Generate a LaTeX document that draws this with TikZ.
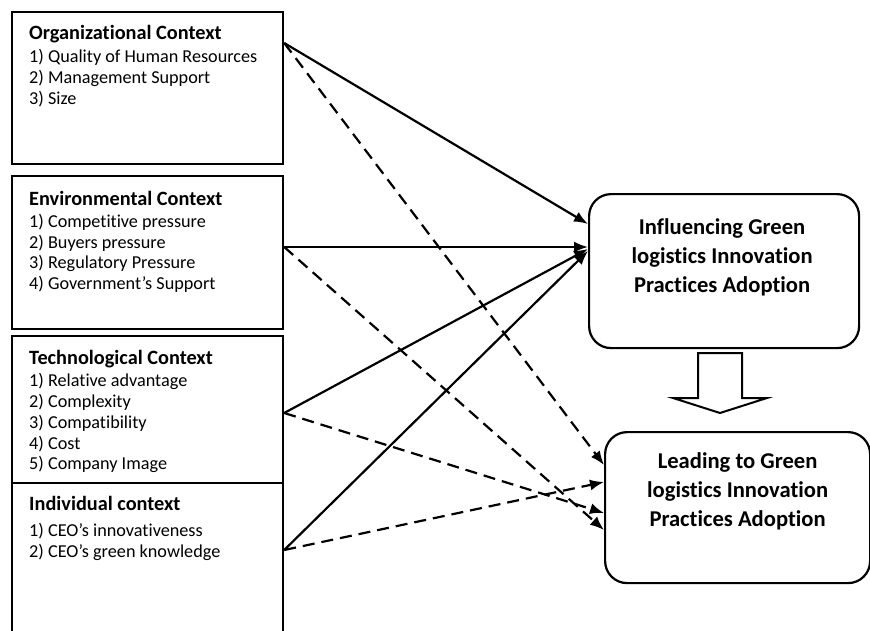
\documentclass[tikz,border=0pt]{standalone}
\usepackage{fontspec}
\setmainfont{Carlito}[Ligatures=NoCommon]
\usetikzlibrary{shapes,arrows,arrows.meta,positioning,calc}

\begin{document}
\begin{tikzpicture}[
    x=1pt, y=-1pt,
    ctxbox/.style={draw, rectangle, line width=2.2pt, anchor=north west, inner sep=0pt, minimum width=271pt},
    ctxtext/.style={anchor=north west, align=left, inner sep=0pt, font=\fontsize{18.2}{20.8}\selectfont},
    outbox/.style={draw, rectangle, line width=2.2pt, rounded corners=22pt, inner sep=0pt},
    outtext/.style={anchor=north, align=center, inner sep=0pt, font=\bfseries\fontsize{22.6}{29}\selectfont},
    arrow/.style={draw, -{Latex[length=14pt,width=11pt]}, line width=2.2pt},
    dasharrow/.style={arrow, dash pattern=on 12pt off 7pt}
]
    \useasboundingbox (0,0) rectangle (870,630);
    \clip (0,0) rectangle (870,630);

    % Nodes
    \node[ctxbox, minimum height=152pt] (org) at (11,11) {};
    \node[ctxbox, minimum height=153pt] (env) at (11,175) {};
    \node[ctxbox, minimum height=147pt] (tech) at (11,335) {};
    \node[ctxbox, minimum height=170pt] (indiv) at (11,482) {};

    \node[ctxtext] (orgtxt) at ($(org.north west)+(18,14)$)
        {{\bfseries\fontsize{20.3}{22}\selectfont Organizational Context}\\[2.5pt]
         1) Quality of Human Resources\\2) Management Support\\3) Size};
    \node[ctxtext] (envtxt) at ($(env.north west)+(18,16)$)
        {{\bfseries\fontsize{20.3}{22}\selectfont Environmental Context}\\[1pt]
         1) Competitive pressure\\2) Buyers pressure\\3) Regulatory Pressure\\4) Government’s Support};
    \node[ctxtext] (techtxt) at ($(tech.north west)+(18,15)$)
        {{\bfseries\fontsize{20.3}{22}\selectfont Technological Context}\\[1.5pt]
         1) Relative advantage\\2) Complexity\\3) Compatibility\\4) Cost\\5) Company Image};
    \node[ctxtext] (indivtxt) at ($(indiv.north west)+(18,14)$)
        {{\bfseries\fontsize{20.3}{22}\selectfont Individual context}\\[5pt]
         1) CEO’s innovativeness\\2) CEO’s green knowledge};

    \node[outbox, anchor=north west, minimum width=270pt, minimum height=154pt] (infl) at (588,193) {};
    \node[outbox, anchor=north west, minimum width=265pt, minimum height=151pt] (lead) at (604,431) {};
    \node[outtext] (infltxt) at ($(infl.north)+(-2,25)$)
        {Influencing Green\\logistics Innovation\\Practices Adoption};
    \node[outtext] (leadtxt) at ($(lead.north)+(0,21)$)
        {Leading to Green\\logistics Innovation\\Practices Adoption};

    % hollow arrow between the two outcomes
    \draw[line width=2pt, line join=miter] (698,353) -- (742,353) -- (742,398) -- (767,398)
        -- (720,413) -- (673,398) -- (698,398) -- cycle;

    % Connections
    \coordinate (o1) at ($(org.north east)+(0,32)$);
    \coordinate (e1) at ($(env.north east)+(0,72)$);
    \coordinate (t1) at ($(tech.north east)+(0,78)$);
    \coordinate (i1) at ($(indiv.north east)+(0,68)$);

    \path[arrow] (o1) -- ($(infl.north west)+(0,31)$);
    \path[arrow] (e1) -- ($(infl.north west)+(0,54)$);
    \path[arrow] (t1) -- ($(infl.north west)+(0,56)$);
    \path[arrow] (i1) -- ($(infl.north west)+(0,58)$);

    \path[dasharrow] (o1) -- ($(lead.north west)+(0,34)$);
    \path[dasharrow] (e1) -- ($(lead.north west)+(0,99)$);
    \path[dasharrow] (t1) -- ($(lead.north west)+(0,82)$);
    \path[dasharrow] (i1) -- ($(lead.north west)+(0,51)$);

\end{tikzpicture}
\end{document}
